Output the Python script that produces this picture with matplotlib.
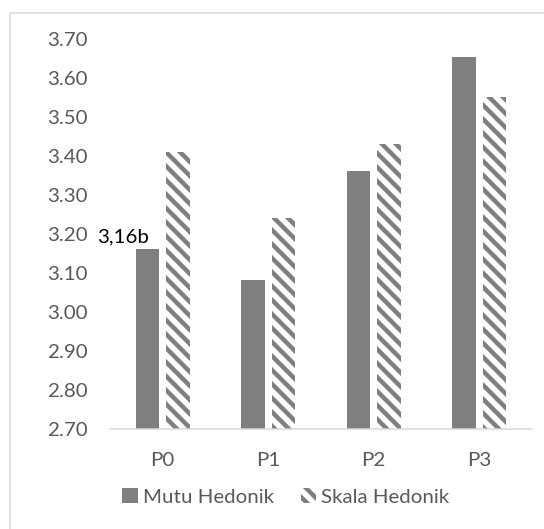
import matplotlib.pyplot as plt
from matplotlib.patches import Rectangle
import numpy as np

# === Data ===
categories = ['P0', 'P1', 'P2', 'P3']
mutu_hedonik = [3.16, 3.08, 3.36, 3.655]
skala_hedonik = [3.41, 3.24, 3.43, 3.55]
series_names = ['Mutu Hedonik', 'Skala Hedonik']
y_ticks = [2.70, 2.80, 2.90, 3.00, 3.10, 3.20, 3.30, 3.40, 3.50, 3.60, 3.70]
label_text = '3,16b'

GRAY = '#7f7f7f'
TEXT = '#595959'
LINE = '#d9d9d9'

DPI = 84  # hatch spacing scales with dpi


def px(v):
    # pixels -> points
    return v * 72 / DPI


plt.rcParams['font.family'] = ['Lato', 'DejaVu Sans']
plt.rcParams['hatch.linewidth'] = px(4.5)

W, H = 544, 529
fig = plt.figure(figsize=(W / DPI, H / DPI), dpi=DPI)
ax = fig.add_axes([110 / W, 1 - 428.5 / H, 422 / W, (428.5 - 39) / H])

x = np.arange(len(categories))
w = 0.222
off = 0.144
b1 = ax.bar(x - off, mutu_hedonik, w, color=GRAY, linewidth=0, label=series_names[0])
b2 = ax.bar(x + off, skala_hedonik, w, color='white', edgecolor=GRAY, hatch='\\\\',
            linewidth=0, label=series_names[1])

ax.set_ylim(2.70, 3.70)
ax.set_xlim(-0.5, 3.5)
ax.set_yticks(y_ticks)
ax.set_yticklabels([f'{v:.2f}' for v in y_ticks])
ax.set_xticks(x)
ax.set_xticklabels(categories)
ax.tick_params(axis='both', length=0, labelsize=px(20.5), labelcolor=TEXT)
ax.tick_params(axis='y', pad=px(22))
ax.tick_params(axis='x', pad=px(24))

for side in ['top', 'right', 'left']:
    ax.spines[side].set_visible(False)
ax.spines['bottom'].set_color(LINE)
ax.spines['bottom'].set_linewidth(px(1.5))

# value label on the first bar
ax.annotate(label_text, xy=(x[0] - off, mutu_hedonik[0]), xytext=(px(-24), px(12.6)),
            textcoords='offset points', ha='center', va='center',
            fontsize=px(20.5), color='black')

leg = fig.legend(handles=[b1, b2], loc='center left', bbox_to_anchor=(104 / W, 1 - 497 / H),
                 ncol=2, frameon=False, fontsize=px(20.5), labelcolor=TEXT,
                 handlelength=0.75, handleheight=0.75, handletextpad=0.25,
                 columnspacing=1.3)

# chart area border
fig.patches.append(Rectangle((10 / W, -0.1), 1.2, 1 - 13 / H + 0.1,
                             transform=fig.transFigure, fill=False,
                             edgecolor=LINE, linewidth=px(1.5)))

fig.savefig('out.png', dpi=DPI)
